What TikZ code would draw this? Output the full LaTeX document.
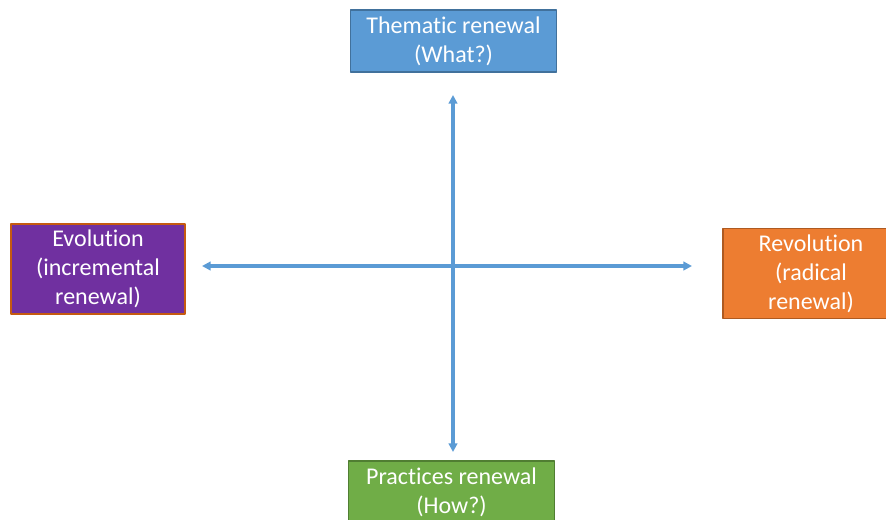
\documentclass[tikz,border=0pt]{standalone}
\usepackage{fontspec}
\setmainfont{Carlito}[Ligatures=NoCommon]
\usepackage{tikz}
\usetikzlibrary{arrows.meta}

\definecolor{axisblue}{HTML}{5B9BD5}
\definecolor{whatfill}{HTML}{5B9BD5}
\definecolor{whatdraw}{HTML}{41719C}
\definecolor{evofill}{HTML}{7030A0}
\definecolor{evodraw}{HTML}{C55A11}
\definecolor{revofill}{HTML}{ED7D31}
\definecolor{revodraw}{HTML}{AE5A21}
\definecolor{howfill}{HTML}{70AD47}
\definecolor{howdraw}{HTML}{507E32}

\begin{document}
\begin{tikzpicture}[line cap=round,line join=round,>={Triangle[length=6.5pt,width=6.5pt]},x=0.75pt,y=-0.75pt,
  box/.style={rectangle,align=center,text=white,font=\fontsize{18}{21.8}\selectfont,line width=0.8pt,inner sep=0pt},
  axis/.style={axisblue,line width=2.3pt,<->}]

% picture frame (the reference cuts off the right and bottom boxes)
\useasboundingbox (0,0) rectangle (886,519);
\clip (0,0) rectangle (886,519);

% centre of the cross
\def\cx{453}
\def\cy{266}

% the four renewal boxes
\node[box,fill=whatfill,draw=whatdraw,minimum width=154pt,minimum height=46.5pt] (what) at (453.5,41) {Thematic renewal\\(What?)};
\node[box,fill=evofill,draw=evodraw,minimum width=130.5pt,minimum height=67.5pt] (evo) at (98,269) {Evolution\\(incremental\\renewal)};
\node[box,fill=revofill,draw=revodraw,minimum width=132pt,minimum height=68pt] (revo) at (811,273.5) {Revolution\\(radical\\renewal)};
\node[box,fill=howfill,draw=howdraw,minimum width=154pt,minimum height=46.5pt] (how) at (451.5,492) {Practices renewal\\(How?)};

% arrow ends
\coordinate (up) at (\cx,95);
\coordinate (down) at (\cx,452);
\coordinate (left) at (202,\cy);
\coordinate (right) at (692,\cy);

% axes
\draw[axis] (down) -- (up);
\draw[axis] (left) -- (right);

\end{tikzpicture}
\end{document}
